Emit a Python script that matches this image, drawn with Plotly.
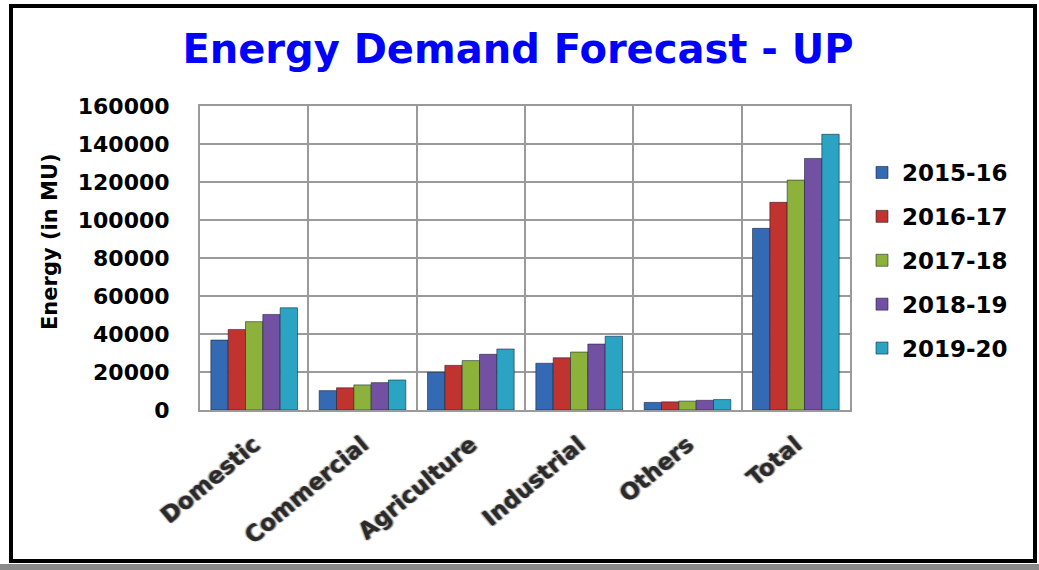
import plotly.graph_objects as go

categories = ["Domestic", "Commercial", "Agriculture", "Industrial", "Others", "Total"]
years = ["2015-16", "2016-17", "2017-18", "2018-19", "2019-20"]
v_2015_16 = [36800, 10200, 19800, 24600, 4000, 95600]
v_2016_17 = [42400, 11700, 23500, 27500, 4300, 109300]
v_2017_18 = [46500, 13200, 26000, 30500, 4700, 121000]
v_2018_19 = [50300, 14400, 29300, 34700, 5100, 132400]
v_2019_20 = [53800, 15800, 32100, 38800, 5500, 145100]
series = [v_2015_16, v_2016_17, v_2017_18, v_2018_19, v_2019_20]
colors = ["#3469b4", "#c0332f", "#8db23c", "#7351a2", "#2ba4c4"]
y_ticks = [0, 20000, 40000, 60000, 80000, 100000, 120000, 140000, 160000]

W, H = 1039, 570
L, R, T, B = 200, 850, 106, 410  # plot area in pixels

def px(x):
    return (x - L) / (R - L)

def py(y):
    return (B - y) / (B - T)

fig = go.Figure()
for name, vals, col in zip(years, series, colors):
    fig.add_trace(go.Bar(
        x=categories, y=vals, name=name, legendgroup=name,
        marker=dict(color=col, line=dict(color="rgba(20,30,50,0.55)", width=1)),
    ))

bold = "DejaVu Sans"
fig.update_layout(
    width=W, height=H,
    margin=dict(l=L, r=W - R, t=T, b=H - B, autoexpand=False),
    paper_bgcolor="white", plot_bgcolor="white",
    barmode="group", bargap=0.2, bargroupgap=0,
    title=dict(text="<b>Energy Demand Forecast - UP</b>",
               font=dict(family=bold, size=40, color="#0000ff"),
               x=px(518), xanchor="center", xref="paper",
               y=1 - 49 / H, yanchor="middle"),
    legend=dict(x=px(862), y=py(151), xanchor="left", yanchor="top",
                font=dict(family=bold, size=23, color="black", weight="bold"),
                traceorder="grouped", tracegroupgap=11, bgcolor="rgba(0,0,0,0)"),
    xaxis=dict(type="category", tickson="boundaries", showgrid=True,
               gridcolor="#9a9a9a", gridwidth=2, showline=True, linecolor="#9a9a9a",
               linewidth=2, mirror=True, ticks="", tickangle=-40,
               ticklabelstandoff=10,
               tickfont=dict(family=bold, size=23, color="#2a2a2a", weight="bold",
                             shadow="1px 1px 1px #888, -1px -1px 1px #aaa")),
    yaxis=dict(range=[0, 160000], tickvals=y_ticks, ticktext=[str(v) for v in y_ticks],
               showgrid=True, gridcolor="#9a9a9a", gridwidth=2, showline=True,
               linecolor="#9a9a9a", linewidth=2, mirror=True, ticks="",
               ticklabelstandoff=24, zeroline=False,
               tickfont=dict(family=bold, size=22, color="black", weight="bold")),
    annotations=[dict(text="<b>Energy (in MU)</b>", textangle=-90,
                      xref="paper", yref="paper", x=px(50), y=py(242),
                      xanchor="center", yanchor="middle", showarrow=False,
                      font=dict(family=bold, size=21, color="black"))],
    shapes=[
        dict(type="rect", xref="paper", yref="paper",
             x0=px(11), x1=px(1035), y0=py(561), y1=py(6),
             line=dict(color="black", width=4), fillcolor="rgba(0,0,0,0)", layer="above"),
        dict(type="rect", xref="paper", yref="paper",
             x0=px(0), x1=px(W), y0=py(H), y1=py(564),
             line=dict(width=0), fillcolor="#8a8a8a", layer="above"),
    ],
)

fig.write_html("out.html")
